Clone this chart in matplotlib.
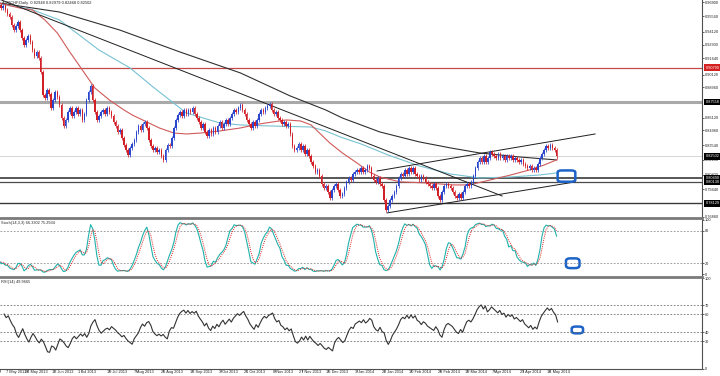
import matplotlib
matplotlib.use("Agg")
import matplotlib.pyplot as plt
from matplotlib.lines import Line2D
from matplotlib.patches import FancyBboxPatch
import numpy as np
import pandas as pd

plt.rcParams['font.family'] = ['Liberation Sans', 'DejaVu Sans']

# daily closes 11 Apr 2013 .. 20 May 2014, first 20 bars are left of the view
pre_closes = [0.9700, 0.9740, 0.9720, 0.9760, 0.9780, 0.9750, 0.9790, 0.9770, 0.9730, 0.9750,
              0.9710, 0.9680, 0.9720, 0.9700, 0.9660, 0.9690, 0.9670, 0.9640, 0.9680, 0.9660]
closes = [
    0.9662, 0.9634, 0.9653, 0.9616, 0.9579, 0.9551, 0.9476, 0.9429, 0.9467, 0.9504,
    0.9429, 0.9355, 0.9290, 0.9336, 0.9373, 0.9318, 0.9243, 0.9187, 0.9224, 0.9168,
    0.9038, 0.8824, 0.8796, 0.8870, 0.8833, 0.8702, 0.8777, 0.8852, 0.8805, 0.8730,
    0.8609, 0.8535, 0.8591, 0.8665, 0.8702, 0.8628, 0.8665, 0.8702, 0.8647, 0.8684,
    0.8591, 0.8647, 0.8777, 0.8852, 0.8907, 0.8777, 0.8665, 0.8591, 0.8628, 0.8665,
    0.8684, 0.8647, 0.8702, 0.8665, 0.8628, 0.8572, 0.8535, 0.8479, 0.8497, 0.8423,
    0.8358, 0.8311, 0.8264, 0.8330, 0.8367, 0.8404, 0.8479, 0.8535, 0.8497, 0.8553,
    0.8572, 0.8516, 0.8404, 0.8348, 0.8311, 0.8330, 0.8292, 0.8311, 0.8255, 0.8218,
    0.8311, 0.8358, 0.8348, 0.8423, 0.8516, 0.8591, 0.8637, 0.8665, 0.8628, 0.8684,
    0.8647, 0.8684, 0.8665, 0.8702, 0.8647, 0.8609, 0.8572, 0.8516, 0.8553, 0.8479,
    0.8441, 0.8497, 0.8460, 0.8516, 0.8479, 0.8535, 0.8572, 0.8516, 0.8553, 0.8591,
    0.8553, 0.8609, 0.8647, 0.8684, 0.8665, 0.8702, 0.8730, 0.8684, 0.8647, 0.8591,
    0.8553, 0.8516, 0.8572, 0.8535, 0.8591, 0.8647, 0.8684, 0.8665, 0.8702, 0.8721,
    0.8740, 0.8684, 0.8647, 0.8665, 0.8609, 0.8591, 0.8553, 0.8572, 0.8535, 0.8553,
    0.8460, 0.8348, 0.8311, 0.8330, 0.8367, 0.8311, 0.8348, 0.8274, 0.8311, 0.8255,
    0.8199, 0.8162, 0.8106, 0.8125, 0.8069, 0.7994, 0.7957, 0.7975, 0.7920, 0.7864,
    0.7938, 0.7975, 0.7994, 0.7938, 0.7882, 0.7901, 0.7957, 0.8013, 0.8050, 0.8031,
    0.8087, 0.8106, 0.8125, 0.8106, 0.8143, 0.8106, 0.8125, 0.8162, 0.8143, 0.8069,
    0.8031, 0.8013, 0.8050, 0.7994, 0.7975, 0.7845, 0.7752, 0.7789, 0.7845, 0.7882,
    0.7920, 0.7975, 0.8050, 0.8087, 0.8069, 0.8125, 0.8087, 0.8143, 0.8106, 0.8143,
    0.8087, 0.8069, 0.8031, 0.8069, 0.8050, 0.8013, 0.7994, 0.7975, 0.7957, 0.7994,
    0.7957, 0.7882, 0.7845, 0.7920, 0.7975, 0.7994, 0.7975, 0.7957, 0.7920, 0.7882,
    0.7864, 0.7901, 0.7864, 0.7920, 0.7975, 0.7994, 0.7975, 0.8013, 0.8069, 0.8143,
    0.8199, 0.8236, 0.8199, 0.8255, 0.8199, 0.8236, 0.8292, 0.8274, 0.8255, 0.8236,
    0.8274, 0.8236, 0.8255, 0.8218, 0.8255, 0.8236, 0.8255, 0.8218, 0.8236, 0.8218,
    0.8199, 0.8218, 0.8181, 0.8162, 0.8143, 0.8162, 0.8125, 0.8143, 0.8125, 0.8181,
    0.8236, 0.8274, 0.8311, 0.8348, 0.8330, 0.8358, 0.8330, 0.8311, 0.82502,
]

# moving averages (bar index, price)
ma_red_idx = [20, 30, 36, 42, 48, 54, 60, 66, 73, 80, 84, 91, 97, 104, 110, 117, 126, 136, 145,
              158, 165, 170, 174, 179, 185, 192, 198, 203, 213, 226, 238, 246, 256, 266, 275, 282, 288]
ma_red = [0.9681, 0.9634, 0.9616, 0.9523, 0.9401, 0.9224, 0.9057, 0.8889, 0.8777, 0.8684, 0.8637,
          0.8572, 0.8516, 0.8469, 0.8460, 0.8469, 0.8488, 0.8516, 0.8553, 0.8591, 0.8581, 0.8544,
          0.8469, 0.8376, 0.8283, 0.8190, 0.8106, 0.8059, 0.8013, 0.8003, 0.7985, 0.7985, 0.8031,
          0.8078, 0.8125, 0.8171, 0.8218]
ma_cyan_idx = [20, 35, 49, 68, 83, 94, 102, 110, 126, 136, 150, 170, 177, 184, 194, 207, 222, 237,
               251, 266, 280, 288]
ma_cyan = [0.9672, 0.9625, 0.9523, 0.9243, 0.9075, 0.8898, 0.8777, 0.8656, 0.8563, 0.8544, 0.8535,
           0.8525, 0.8488, 0.8432, 0.8367, 0.8264, 0.8162, 0.8087, 0.8050, 0.8059, 0.8078, 0.8097]
ma_black_idx = [20, 49, 78, 107, 136, 160, 177, 185, 203, 222, 237, 251, 270, 288]
ma_black = [0.9681, 0.9597, 0.9429, 0.9224, 0.9029, 0.8814, 0.8684, 0.8609, 0.8479, 0.8386,
            0.8330, 0.8283, 0.8246, 0.8218]

# trend lines (bar index, price) pairs
trend_lines = [((19.0, 0.9725), (261.8, 0.7882)),
               ((201.7, 0.8115), (306.5, 0.8460)),
               ((206.5, 0.7724), (296.9, 0.8013))]

# horizontal levels: price, colour, width, label box colour
levels = [(0.90790, '#c44a4a', 0.9, '#d42020'),
          (0.87558, '#a9a9a9', 2.2, '#000000'),
          (0.82502, '#cfcfcf', 0.6, '#000000'),
          (0.80490, '#3a3a3a', 1.2, '#000000'),
          (0.80130, '#4a4a4a', 0.9, '#000000'),
          (0.78129, '#3a3a3a', 1.0, '#000000')]

price_ticks = [0.96900, 0.95560, 0.94120, 0.92900, 0.91640, 0.90120, 0.88960, 0.86120,
               0.84960, 0.83540, 0.82180, 0.80800, 0.79440, 0.76860]
stoch_ticks = [0, 20, 80, 100]
rsi_ticks = [0, 30, 40, 60, 70, 100]
tick_dates = ["2013-05-07", "2013-05-24", "2013-06-12", "2013-07-01", "2013-07-19", "2013-08-07",
              "2013-08-26", "2013-09-13", "2013-10-03", "2013-10-21", "2013-11-08", "2013-11-27",
              "2013-12-16", "2014-01-03", "2014-01-22", "2014-02-10", "2014-02-28", "2014-03-19",
              "2014-04-07", "2014-04-25", "2014-05-14"]

title = "AUDCHF,Daily  0.82948 0.82979 0.82468 0.82502"
stoch_label = "Stoch(14,3,3) 66.3302 75.2934"
rsi_label = "RSI(14) 49.9665"

WICK = 0.0022
FS = 2.75
dates = pd.bdate_range("2013-04-11", "2014-05-20")
c = pd.Series(pre_closes + closes, index=dates)
o = c.shift(1).fillna(c.iloc[0])
hi = np.maximum(o, c) + WICK
lo = np.minimum(o, c) - WICK

ll = lo.rolling(14).min()
hh = hi.rolling(14).max()
k = (c - ll).rolling(3).sum() / (hh - ll).rolling(3).sum() * 100
d = k.rolling(3).mean()
delta = c.diff()
up = delta.clip(lower=0).ewm(alpha=1 / 14, adjust=False).mean()
dn = (-delta.clip(upper=0)).ewm(alpha=1 / 14, adjust=False).mean()
rsi = 100 - 100 / (1 + up / dn)

n0 = len(pre_closes)
x = np.arange(len(c))
vis = x >= n0

W, H = 720, 376
XMIN, XMAX = 20.43, 357.9
fig = plt.figure(figsize=(W / 100, H / 100), dpi=100)
fig.patch.set_facecolor('white')


def panel(top, bot):
    a = fig.add_axes([0, 1 - bot / H, 702 / W, (bot - top) / H])
    a.set_xlim(XMIN, XMAX)
    for s in ['top', 'left', 'bottom']:
        a.spines[s].set_visible(False)
    a.spines['right'].set_color('#505050')
    a.spines['right'].set_linewidth(0.8)
    a.yaxis.tick_right()
    a.tick_params(axis='y', labelsize=FS, length=1.5, width=0.5, pad=0.4, colors='#222222')
    a.tick_params(axis='x', bottom=False, labelbottom=False)
    return a


ax1 = panel(0, 217)
ax2 = panel(219, 276)
ax3 = panel(278, 369)

# main price panel
ax1.set_ylim(0.7687, 0.9709)
ax1.set_yticks(price_ticks)
ax1.set_yticklabels([f"{v:.5f}" for v in price_ticks])
for p, col, lw, box in levels:
    ax1.axhline(p, color=col, lw=lw, zorder=1)
    ax1.text(1.0 + 3.5 / 702, p, f"{p:.5f}", transform=ax1.get_yaxis_transform(), ha='left',
             va='center', fontsize=FS, color='white', clip_on=False, zorder=5,
             bbox=dict(boxstyle='square,pad=0.3', fc=box, ec='none'))

ax1.plot(ma_black_idx, ma_black, color='#303030', lw=0.8, zorder=2)
ax1.plot(ma_cyan_idx, ma_cyan, color='#78c2d2', lw=0.8, zorder=2)
ax1.plot(ma_red_idx, ma_red, color='#d05a5a', lw=0.8, zorder=2)
for (x0, y0), (x1, y1) in trend_lines:
    ax1.plot([x0, x1], [y0, y1], color='#1e1e1e', lw=0.7, zorder=2)

xv = x[vis]
ov, cv, hv, lv = o[vis].values, c[vis].values, hi[vis].values, lo[vis].values
bull = cv >= ov
cols = np.where(bull, '#2a46cc', '#d22028')
ax1.vlines(xv, lv, hv, colors=cols, lw=0.55, zorder=3)
ax1.bar(xv, np.maximum(np.abs(cv - ov), 0.0005), bottom=np.minimum(ov, cv), width=0.75,
        color=cols, lw=0, zorder=3)

ax1.add_patch(FancyBboxPatch((288.5, 0.8015), 8.5, 0.0105, boxstyle='round,pad=0,rounding_size=2',
                             fill=False, ec='#1e64c8', lw=1.8, zorder=6,
                             mutation_aspect=0.0009))

# stochastic
ax2.set_ylim(-3.6, 101.8)
ax2.set_yticks(stoch_ticks)
for lev in (20, 80):
    ax2.axhline(lev, color='#8c8c8c', lw=0.6, ls=(0, (2, 2)))
ax2.plot(xv, k[vis], color='#20b2aa', lw=0.8)
ax2.plot(xv, d[vis], color='#e02020', lw=0.7, ls=(0, (1, 1.2)))
ax2.add_patch(FancyBboxPatch((292.5, 11), 6.5, 18, boxstyle='round,pad=0,rounding_size=2',
                             fill=False, ec='#1e64c8', lw=1.8, mutation_aspect=2.5))

# rsi
ax3.set_ylim(-0.5, 100.3)
ax3.set_yticks(rsi_ticks)
for lev in (30, 40, 60, 70):
    ax3.axhline(lev, color='#6e6e6e', lw=0.6, ls=(0, (2, 2)))
ax3.plot(xv, rsi[vis], color='#333333', lw=0.8)
ax3.add_patch(FancyBboxPatch((294.8, 39), 5.5, 7.5, boxstyle='round,pad=0,rounding_size=2',
                             fill=False, ec='#1e64c8', lw=1.8, mutation_aspect=1.2))
ax3.spines['bottom'].set_visible(True)
ax3.spines['bottom'].set_color('#505050')
ax3.spines['bottom'].set_linewidth(0.8)

# date axis, first label kept inside the left edge
pos = [dates.get_loc(pd.Timestamp(s)) for s in tick_dates]
ax3.set_xticks(pos)
ax3.tick_params(axis='x', bottom=True, length=2, width=0.5, colors='#505050')
for pp, s in zip(pos, tick_dates):
    t = pd.Timestamp(s)
    ax3.text(max(pp - 1.0, XMIN + 0.3), -0.012, f"{t.day} {t.strftime('%b %Y')}",
             transform=ax3.get_xaxis_transform(), ha='left', va='top', fontsize=FS,
             color='#222222', clip_on=False)

# panel separators
for yp in (218, 277):
    fig.add_artist(Line2D([0, 702 / W], [1 - yp / H] * 2, lw=2.0, color='#7a7a7a'))

fig.text(2 / W, 1 - 3 / H, title, fontsize=2.9, va='center', ha='left', color='#222222')
fig.text(1 / W, 1 - 223 / H, stoch_label, fontsize=FS, va='center', ha='left', color='#222222')
fig.text(1 / W, 1 - 282 / H, rsi_label, fontsize=FS, va='center', ha='left', color='#222222')

fig.savefig("out.png", dpi=100, facecolor='white')
